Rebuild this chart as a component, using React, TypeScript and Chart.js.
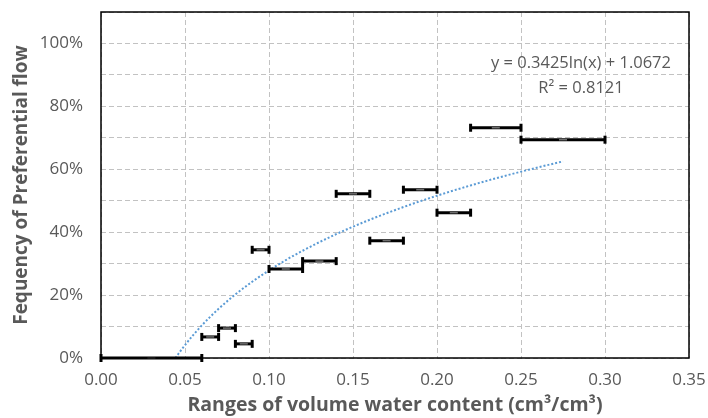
import React, { useEffect, useRef } from "react";
import { Chart, registerables } from "chart.js";

Chart.register(...registerables);

// Ranges of volume water content (cm3/cm3): lower and upper limits of each range
const RANGE_LOW = [0.0, 0.06, 0.07, 0.08, 0.09, 0.1, 0.12, 0.14, 0.16, 0.18, 0.2, 0.22, 0.25];
const RANGE_HIGH = [0.06, 0.07, 0.08, 0.09, 0.1, 0.12, 0.14, 0.16, 0.18, 0.2, 0.22, 0.25, 0.3];
// Frequency of preferential flow for each range
const FREQUENCY = [0.0, 0.067, 0.095, 0.045, 0.344, 0.283, 0.308, 0.522, 0.373, 0.535, 0.462, 0.732, 0.694];

// Logarithmic trendline y = a ln(x) + b, as printed on the chart
const TREND_A = 0.3425;
const TREND_B = 1.0672;
const TREND_X = [0.0443, 0.046, 0.048, 0.05, 0.055, 0.06, 0.065, 0.07, 0.08, 0.09, 0.1, 0.11, 0.12, 0.14, 0.16, 0.18, 0.2, 0.22, 0.24, 0.26, 0.275];

const X_TICKS = [0, 0.05, 0.1, 0.15, 0.2, 0.25, 0.3, 0.35];
const EQUATION = "y = 0.3425ln(x) + 1.0672";
const R_SQUARED = "R² = 0.8121";

const FONT = "'Open Sans', 'DejaVu Sans', sans-serif";
const GREY = "#595959";

export default function App() {
  const ref = useRef<HTMLCanvasElement | null>(null);

  useEffect(() => {
    document.body.style.margin = "0";
    const canvas = ref.current;
    if (!canvas) return;

    const barSets = RANGE_LOW.map((lo, i) => ({
      type: "line" as const,
      data: [
        { x: lo, y: FREQUENCY[i] },
        { x: RANGE_HIGH[i], y: FREQUENCY[i] },
      ],
      borderColor: "#000000",
      borderWidth: 3,
      pointStyle: "line" as const,
      rotation: 90,
      pointRadius: 4,
      pointBorderWidth: 3,
      pointBorderColor: "#000000",
      pointBackgroundColor: "#000000",
      clip: false as any,
      order: 1,
    }));

    const markers = {
      type: "scatter" as const,
      data: RANGE_LOW.map((lo, i) => ({ x: (lo + RANGE_HIGH[i]) / 2, y: FREQUENCY[i] })),
      pointStyle: "line" as const,
      pointRadius: 4,
      pointBorderWidth: 1.5,
      pointBorderColor: "#6f6f6f",
      pointBackgroundColor: "#6f6f6f",
      clip: false as any,
      order: 0,
    };

    const trend = {
      type: "line" as const,
      data: TREND_X.map((x) => ({ x, y: TREND_A * Math.log(x) + TREND_B })),
      borderColor: "#5B9BD5",
      borderWidth: 2,
      borderDash: [2, 2],
      pointRadius: 0,
      tension: 0.4,
      cubicInterpolationMode: "monotone" as const,
      order: 5,
    };

    const framePlugin = {
      id: "frame",
      afterDatasetsDraw(chart: any) {
        const { ctx, chartArea } = chart;
        ctx.save();
        ctx.strokeStyle = "#000000";
        ctx.lineWidth = 1.5;
        ctx.strokeRect(chartArea.left, chartArea.top, chartArea.right - chartArea.left, chartArea.bottom - chartArea.top);
        ctx.restore();
      },
    };

    const equationPlugin = {
      id: "equation",
      afterDraw(chart: any) {
        const { ctx, chartArea } = chart;
        ctx.save();
        ctx.fillStyle = GREY;
        ctx.font = `16.5px ${FONT}`;
        ctx.textAlign = "center";
        ctx.textBaseline = "middle";
        const cx = chartArea.right - 108;
        ctx.fillText(EQUATION, cx, chartArea.top + 51);
        ctx.fillText(R_SQUARED, cx, chartArea.top + 76);
        ctx.restore();
      },
    };

    const chart = new Chart(canvas, {
      data: { datasets: [...barSets, markers, trend] as any },
      options: {
        animation: false,
        responsive: false,
        maintainAspectRatio: false,
        layout: { padding: { top: 12, right: 19, left: 0, bottom: 0 } },
        plugins: {
          legend: { display: false },
          tooltip: { enabled: false },
        },
        scales: {
          x: {
            type: "linear",
            min: 0,
            max: 0.35,
            afterFit(scale: any) {
              scale.height = 60;
              scale.paddingLeft = 0;
              scale.paddingRight = 0;
            },
            afterBuildTicks(scale: any) {
              scale.ticks = X_TICKS.map((v) => ({ value: v }));
            },
            ticks: {
              color: GREY,
              font: { family: FONT, size: 17 },
              padding: 12,
              maxRotation: 0,
              autoSkip: false,
              callback: (v: any) => Number(v).toFixed(2),
            },
            grid: {
              color: "#c2c2c2",
              lineWidth: 1,
              drawTicks: false,
            },
            border: { display: false, dash: [5, 3] },
            title: {
              display: true,
              text: "Ranges of volume water content (cm³/cm³)",
              color: GREY,
              font: { family: FONT, size: 19.5, weight: "bold" },
              padding: { top: 0, bottom: 1 },
            },
          },
          y: {
            type: "linear",
            min: 0,
            max: 1.1,
            afterFit(scale: any) {
              scale.width = 101;
              scale.paddingTop = 0;
              scale.paddingBottom = 0;
            },
            ticks: {
              stepSize: 0.1,
              color: GREY,
              font: { family: FONT, size: 17 },
              padding: 18,
              autoSkip: false,
              callback: (v: any) => {
                const n = Math.round(Number(v) * 10);
                if (n % 2 !== 0 || n > 10) return "";
                return `${n * 10}%`;
              },
            },
            grid: {
              color: "#c2c2c2",
              lineWidth: 1,
              drawTicks: false,
            },
            border: { display: false, dash: [5, 3] },
            title: {
              display: true,
              text: "Fequency of Preferential flow",
              color: GREY,
              font: { family: FONT, size: 19, weight: "bold" },
              padding: { top: 10, bottom: 0 },
            },
          },
        },
      } as any,
      plugins: [framePlugin, equationPlugin],
    });

    return () => chart.destroy();
  }, []);

  return (
    <div style={{ width: 708, height: 418 }}>
      <canvas ref={ref} width={708} height={418} />
    </div>
  );
}
